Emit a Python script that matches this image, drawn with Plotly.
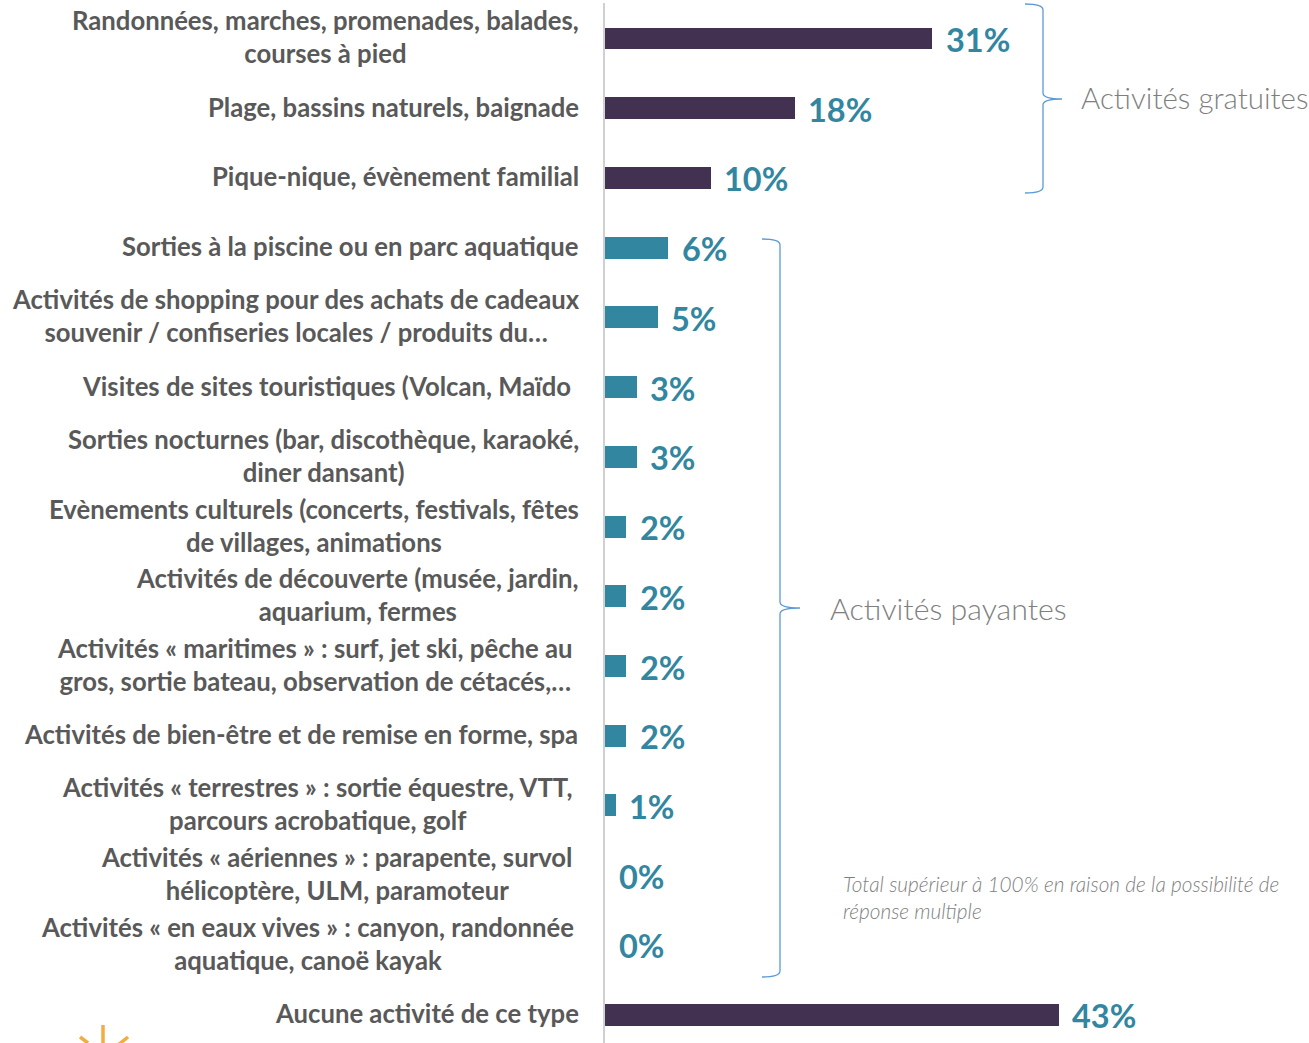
import plotly.graph_objects as go

W, H = 1309, 1043

labels = [
    "Randonnées, marches, promenades, balades,<br>courses à pied",
    "Plage, bassins naturels, baignade",
    "Pique-nique, évènement familial",
    "Sorties à la piscine ou en parc aquatique",
    "Activités de shopping pour des achats de cadeaux<br>souvenir / confiseries locales / produits du…",
    "Visites de sites touristiques (Volcan, Maïdo",
    "Sorties nocturnes (bar, discothèque, karaoké,<br>diner dansant)",
    "Evènements culturels (concerts, festivals, fêtes<br>de villages, animations",
    "Activités de découverte (musée, jardin,<br>aquarium, fermes",
    "Activités « maritimes » : surf, jet ski, pêche au<br>gros, sortie bateau, observation de cétacés,…",
    "Activités de bien-être et de remise en forme, spa",
    "Activités « terrestres » : sortie équestre, VTT,<br>parcours acrobatique, golf",
    "Activités « aériennes » : parapente, survol<br>hélicoptère, ULM, paramoteur",
    "Activités « en eaux vives » : canyon, randonnée<br>aquatique, canoë kayak",
    "Aucune activité de ce type",
]
values = [31, 18, 10, 6, 5, 3, 3, 2, 2, 2, 2, 1, 0, 0, 43]
groups = ["g", "g", "g", "p", "p", "p", "p", "p", "p", "p", "p", "p", "p", "p", "g"]
label_shift = [-24, -24, -24, -24, -23, -32, -24, -24, -24, -30, -25, -30, -30, -29, -24]

DARK, TEAL, GREY = "#423151", "#32869F", "#595959"
BLUE = "#5B9BD5"
FONT = "Lato, Carlito, sans-serif"
ids = [f"r{i}" for i in range(len(labels))]

fig = go.Figure(go.Bar(
    x=values, y=ids, orientation="h", width=0.315,
    marker=dict(color=[DARK if g == "g" else TEAL for g in groups], line_width=0),
    hoverinfo="skip",
))

anns = []
for i, (rid, lab, v, s) in enumerate(zip(ids, labels, values, label_shift)):
    anns.append(dict(x=0, y=rid, xref="x", yref="y", text=f"<b>{lab}</b>", showarrow=False,
                     xanchor="right", yanchor="middle", align="center", xshift=s, yshift=1.5,
                     font=dict(family=FONT, size=25.7, color=GREY)))
    anns.append(dict(x=v, y=rid, xref="x", yref="y", text=f"<b>{v}%</b>", showarrow=False,
                     xanchor="left", yanchor="middle", xshift=12, yshift=-1,
                     font=dict(family=FONT, size=32.5, color=TEAL)))

def px(x, y, text, size, color, family=FONT, anchor="left", align="left"):
    return dict(x=x / W, y=1 - y / H, xref="paper", yref="paper", text=text, showarrow=False,
                xanchor=anchor, yanchor="middle", align=align,
                font=dict(family=family, size=size, color=color))

anns.append(px(1079, 98, "Activités gratuites", 29.5, "#7F7F7F", "Lato Light, Lato"))
anns.append(px(828, 608, "Activités payantes", 30.3, "#7F7F7F", "Lato Light, Lato"))
anns.append(px(841, 897, "<i>Total supérieur à 100% en raison de la possibilité de<br>réponse multiple</i>",
               20.8, "#7F7F7F", "Lato Light, Lato"))

def X(v): return v / W
def Y(v): return 1 - v / H

def brace(xl, xm, xt, y0, yc, y1):
    p = (f"M {X(xl)} {Y(y0)} Q {X(xm)} {Y(y0)} {X(xm)} {Y(y0+6)} "
         f"L {X(xm)} {Y(yc-6)} Q {X(xm)} {Y(yc)} {X(xt)} {Y(yc)} "
         f"Q {X(xm)} {Y(yc)} {X(xm)} {Y(yc+6)} "
         f"L {X(xm)} {Y(y1-6)} Q {X(xm)} {Y(y1)} {X(xl)} {Y(y1)}")
    return dict(type="path", path=p, xref="paper", yref="paper",
                line=dict(color=BLUE, width=1.3), fillcolor="rgba(0,0,0,0)")

shapes = [brace(1025, 1043, 1062, 4, 99, 193), brace(762, 780, 800, 239, 608, 977)]
for (x0, y0, x1, y1) in [(103, 1025, 103, 1043), (80, 1037, 88, 1043), (128, 1037, 118, 1045)]:
    shapes.append(dict(type="line", xref="paper", yref="paper", x0=X(x0), y0=Y(y0), x1=X(x1), y1=Y(y1),
                       line=dict(color="#F0AE42", width=3.5)))

fig.update_layout(
    width=W, height=H, margin=dict(l=0, r=0, t=0, b=0, autoexpand=False),
    paper_bgcolor="white", plot_bgcolor="white", showlegend=False,
    annotations=anns, shapes=shapes,
    bargap=0,
    xaxis=dict(domain=[604.5 / W, 1], range=[0, (W - 604.5) / 10.55], visible=False, fixedrange=True),
    yaxis=dict(type="category", categoryorder="array", categoryarray=ids,
               range=[14.407, -0.509], domain=[0, 1 - 3 / H], showticklabels=False, ticks="",
               showgrid=False, zeroline=False, showline=True, linecolor="#D0D0D0", linewidth=2,
               anchor="x", fixedrange=True),
)
fig.write_html("out.html", config=dict(displayModeBar=False),
               post_script="document.body.style.margin='0';document.documentElement.style.overflow='hidden';")
